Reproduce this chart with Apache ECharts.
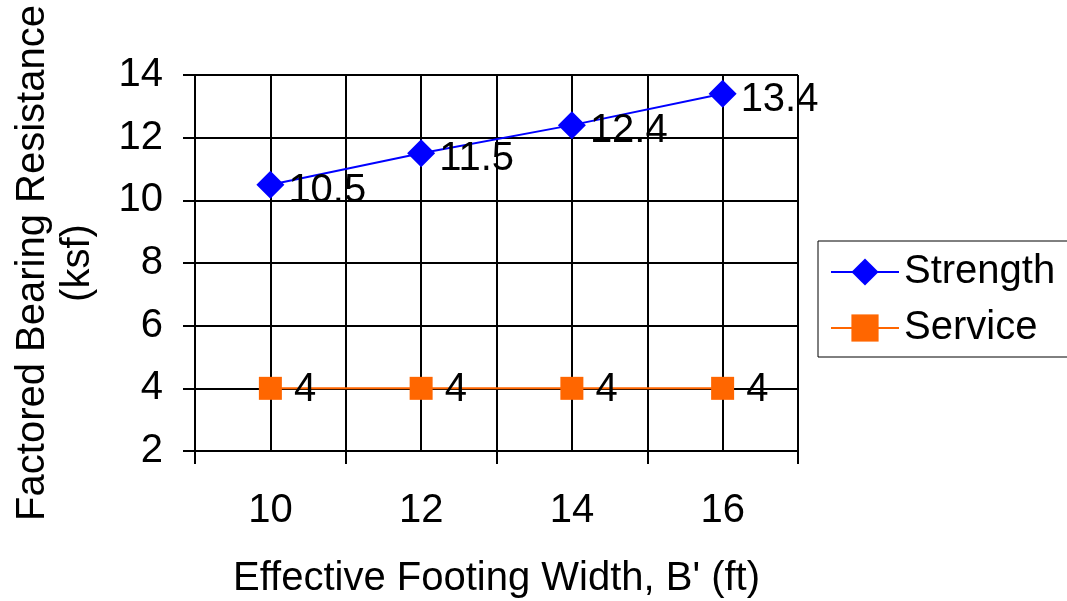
<!DOCTYPE html>
<html>
<head>
<meta charset="utf-8">
<script src="https://cdn.jsdelivr.net/npm/echarts@6/dist/echarts.min.js"></script>
<style>html,body{margin:0;padding:0;background:#fff}#c{width:1067px;height:601px}</style>
</head>
<body>
<div id="c"></div>
<script>
const widths = [10, 12, 14, 16];
const strength = [10.5, 11.5, 12.4, 13.4];
const service = [4, 4, 4, 4];
const yTicks = [2, 4, 6, 8, 10, 12, 14];

const FONT = 'Liberation Sans, Arial, sans-serif';
const FS = 40;
const chart = echarts.init(document.getElementById('c'), null, {renderer: 'canvas'});
chart.setOption({
  animation: false,
  backgroundColor: '#fff',
  textStyle: {fontFamily: FONT},
  grid: {left: 195, right: 269, top: 75, bottom: 150, containLabel: false, outerBoundsMode: 'none'},
  legend: {
    orient: 'vertical', left: 818, top: 241,
    padding: [11, 14, 9, 12],
    itemWidth: 68, itemHeight: 34, itemGap: 16,
    borderColor: '#000', borderWidth: 1, backgroundColor: '#fff',
    textStyle: {fontSize: FS, color: '#000', fontFamily: FONT},
    data: ['Strength', 'Service']
  },
  xAxis: [{
    type: 'value', min: 9, max: 17, interval: 1,
    position: 'bottom',
    name: "Effective Footing Width, B' (ft)",
    nameLocation: 'middle', nameGap: 108,
    nameTextStyle: {fontSize: FS, color: '#000', fontFamily: FONT},
    axisLine: {show: true, lineStyle: {color: '#000', width: 2}},
    axisTick: {show: false},
    splitLine: {show: true, lineStyle: {color: '#000', width: 2}},
    axisLabel: {
      fontSize: FS, color: '#000', fontFamily: FONT, margin: 40,
      formatter: v => (widths.indexOf(v) >= 0 ? String(v) : '')
    }
  }, {
    type: 'value', min: 0, max: 4, interval: 1,
    position: 'bottom',
    axisLine: {show: false},
    axisTick: {show: true, length: 13, lineStyle: {color: '#000', width: 2}},
    axisLabel: {show: false},
    splitLine: {show: false}
  }],
  yAxis: {
    type: 'value', min: 2, max: 14, interval: 2,
    name: 'Factored Bearing Resistance\n(ksf)',
    nameLocation: 'middle', nameGap: 95,
    nameTextStyle: {fontSize: FS, color: '#000', fontFamily: FONT, lineHeight: 45},
    axisLine: {show: true, lineStyle: {color: '#000', width: 2}},
    axisTick: {show: true, length: 12, lineStyle: {color: '#000', width: 2}},
    splitLine: {show: true, lineStyle: {color: '#000', width: 2}},
    axisLabel: {
      fontSize: FS, color: '#000', fontFamily: FONT, margin: 32,
      formatter: v => (yTicks.indexOf(v) >= 0 ? String(v) : '')
    }
  },
  series: [{
    name: 'Strength', type: 'line', xAxisIndex: 0,
    data: widths.map((w, i) => [w, strength[i]]),
    symbol: 'diamond', symbolSize: 28,
    itemStyle: {color: '#0000FF'},
    lineStyle: {color: '#0000FF', width: 2},
    label: {show: true, position: 'right', distance: 4, offset: [0, 6],
      fontSize: FS, color: '#000', fontFamily: FONT,
      formatter: p => String(p.value[1])}
  }, {
    name: 'Service', type: 'line', xAxisIndex: 0,
    data: widths.map((w, i) => [w, service[i]]),
    symbol: 'rect', symbolSize: 23,
    itemStyle: {color: '#FF6600'},
    lineStyle: {color: '#FF6600', width: 2},
    label: {show: true, position: 'right', distance: 12, offset: [0, 2],
      fontSize: FS, color: '#000', fontFamily: FONT,
      formatter: p => String(p.value[1])}
  }]
});
</script>
</body>
</html>
